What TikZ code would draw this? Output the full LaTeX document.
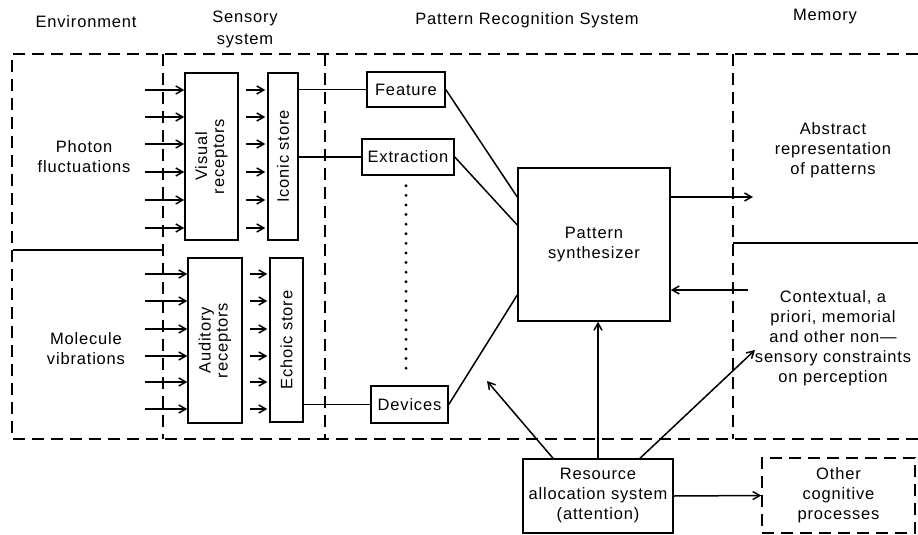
\documentclass[tikz,border=0pt]{standalone}
\usepackage{fontspec}
\setmainfont{Liberation Sans}[LetterSpace=5]
\usetikzlibrary{arrows.meta,positioning,calc}

\begin{document}
\begin{tikzpicture}[x=1pt, y=-1pt,
    every node/.style={font=\fontsize{16.5}{20}\selectfont, align=center},
    region/.style={line width=1.5pt, dash pattern=on 12pt off 7pt},
    box/.style={draw, line width=1.5pt, inner sep=2pt},
    sig/.style={line width=1.5pt, -{Straight Barb[length=7pt,width=8pt]}},
    wire/.style={line width=1.5pt}]
    \useasboundingbox (0,0) rectangle (918,535);

    % region titles
    \node (envtitle) at (86,22) {Environment};
    \node (senstitle) at (245,29) {Sensory\\[2pt]system};
    \node (pattitle) at (527,20) {Pattern Recognition System};
    \node (memtitle) at (825,17) {Memory};

    % dashed regions
    \draw[region] (918,54) -- (12,54) -- (12,439) -- (918,439);
    \draw[region] (163,54) -- (163,439);
    \draw[region] (325,54) -- (325,439);
    \draw[region] (733,54) -- (733,439);
    \draw[wire] (13,250) -- (163,250);
    \draw[wire] (733,243) -- (918,243);

    % environment and memory texts
    \node (photon) at (84,157) {Photon\\fluctuations};
    \node (molecule) at (86,349) {Molecule\\vibrations};
    \node (abstract) at (833,150) {Abstract\\representation\\of patterns};
    \node (context) at (833,338) {Contextual, a\\priori, memorial\\and other non---\\sensory constraints\\on perception};

    % sensory system
    \node[box, minimum width=53pt, minimum height=167pt] (visual) at (211.5,156.5)
        {\rotatebox{90}{\begin{tabular}{@{}c@{}}Visual\\[-3pt]receptors\end{tabular}}};
    \node[box, minimum width=30pt, minimum height=167pt] (iconic) at (283,156.5)
        {\rotatebox{90}{Iconic store}};
    \node[box, minimum width=54pt, minimum height=165pt] (auditory) at (215,340.5)
        {\rotatebox{90}{\begin{tabular}{@{}c@{}}Auditory\\[-3pt]receptors\end{tabular}}};
    \node[box, minimum width=33pt, minimum height=164pt] (echoic) at (286.5,340)
        {\rotatebox{90}{Echoic store}};

    % pattern recognition system
    \node[box, minimum width=78pt, minimum height=35pt] (feature) at (406,89.5) {Feature};
    \node[box, minimum width=92pt, minimum height=36pt] (extraction) at (408,157) {Extraction};
    \node[box, minimum width=77pt, minimum height=37pt] (devices) at (409.5,404.5) {Devices};
    \node[box, minimum width=152pt, minimum height=153pt] (synth) at (594,244.5) {Pattern\\synthesizer};

    % attention
    \node[box, minimum width=150pt, minimum height=74pt] (resource) at (598,496) {Resource\\allocation system\\(attention)};
    \node[box, region, minimum width=153pt, minimum height=75pt] (other) at (838.5,495.5) {Other\\cognitive\\processes};

    % inputs to receptors and stores
    \foreach \y in {90,117,144,172,200,228} {
        \coordinate (vin) at (145,\y);
        \draw[sig] (vin) -- (vin -| visual.west);
        \draw[sig, shorten <=7pt, shorten >=2pt] (visual.east |- vin) -- (iconic.west |- vin);
    }
    \foreach \y in {274,301,329,356,382,409} {
        \coordinate (ain) at (145,\y);
        \draw[sig] (ain) -- (ain -| auditory.west);
        \draw[sig, shorten <=7pt, shorten >=2pt] (auditory.east |- ain) -- (echoic.west |- ain);
    }

    % stores to feature extraction devices
    \draw[wire] (iconic.east |- feature) -- (feature.west);
    \draw[wire] (iconic.east |- extraction) -- (extraction.west);
    \draw[wire] (echoic.east |- devices) -- (devices.west);
    \draw[line width=3.2pt, line cap=round, dash pattern=on 0pt off 9.6pt, shorten <=10pt, shorten >=8pt]
        ([xshift=-2pt]extraction.south) -- ([xshift=-2pt]extraction.south |- devices.north);

    % devices to synthesizer
    \draw[wire] (feature.east) -- ([yshift=47.5pt]synth.west);
    \draw[wire] (extraction.east) -- ([yshift=19.5pt]synth.west);
    \draw[wire] (devices.east) -- ([yshift=-50.5pt]synth.west);

    % synthesizer and memory
    \coordinate (absout) at (753,197);
    \coordinate (ctxin) at (748,290);
    \draw[sig] ([yshift=47.5pt]synth.east) -- (absout);
    \draw[sig] (ctxin) -- (ctxin -| synth.east);

    % attention arrows
    \coordinate (attnpat) at (487,381);
    \coordinate (attnmem) at (755,350);
    \draw[sig] ([xshift=-45pt]resource.north) -- (attnpat);
    \draw[sig] (resource.north) -- (resource.north |- synth.south);
    \draw[sig] ([xshift=42pt]resource.north) -- (attnmem);
    \draw[sig] (resource.east) -- (other.west);
\end{tikzpicture}
\end{document}
